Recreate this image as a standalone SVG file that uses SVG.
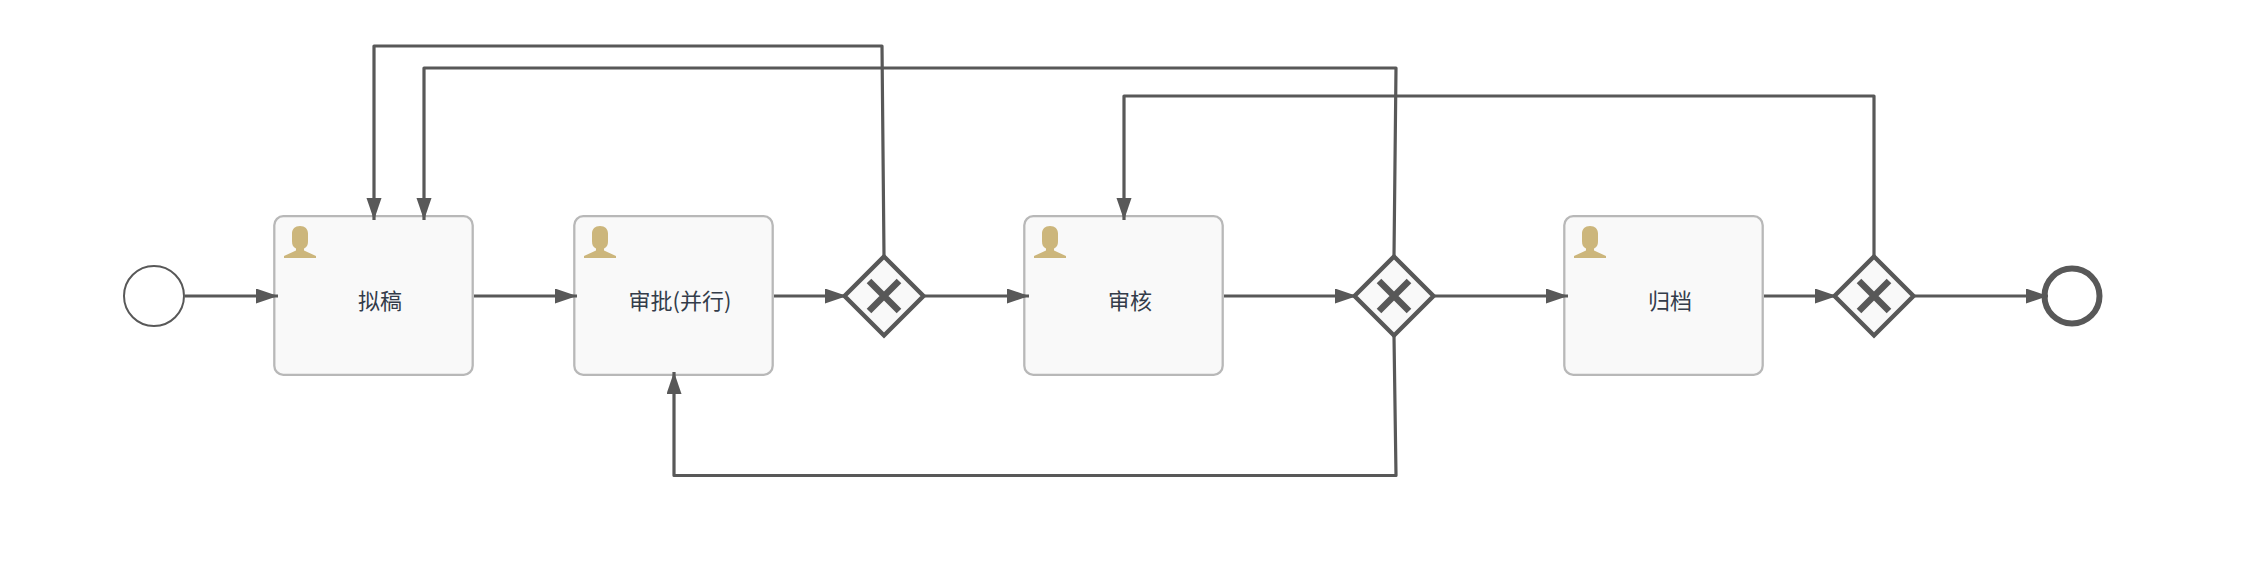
<svg xmlns="http://www.w3.org/2000/svg" width="2250" height="566" viewBox="0 0 2250 566">
<style>
.flow{fill:none;stroke:#585858;stroke-width:3.200;stroke-linejoin:round;stroke-linecap:butt}
.task{fill:#f9f9f9;stroke:#b8b8b8;stroke-width:2.300}
.gw{fill:#f9f9f9;stroke:#585858;stroke-width:4.400}
.x{fill:none;stroke:#585858;stroke-width:6.500}
.user{fill:#ccb67c}
.lbl{font-family:"Noto Sans CJK SC","Noto Sans",sans-serif;font-size:22px;fill:#333c4a;text-anchor:middle}
</style>
<defs>
<marker id="arrow" markerUnits="userSpaceOnUse" markerWidth="23" markerHeight="16" refX="22" refY="7.500" orient="auto"><path d="M0 0L22 7.500L0 15Z" fill="#585858"/></marker>
<path id="person" d="M16 0C11 0 8 3 8 7.500V15C8 19 9 21 12 22.500V24.500L0 30V32H32V30L20 24.500V22.500C23 21 24 19 24 15V7.500C24 3 21 0 16 0Z"/>
</defs>
<g id="start"><circle cx="154" cy="296" r="30" fill="#fff" stroke="#585858" stroke-width="2"/></g>
<g id="task1"><rect class="task" x="274.300" y="216.200" width="198.400" height="158.600" rx="9"/><use href="#person" class="user" x="284" y="226"/><text class="lbl" x="380" y="309">拟稿</text></g>
<g id="task2"><rect class="task" x="574.300" y="216.200" width="198.400" height="158.600" rx="9"/><use href="#person" class="user" x="584" y="226"/><text class="lbl" x="680" y="309">审批(并行)</text></g>
<g id="gateway1"><path class="gw" d="M884 256.500L923.500 296L884 335.500L844.500 296Z"/><path class="x" d="M869 281L899 311M899 281L869 311"/></g>
<g id="task3"><rect class="task" x="1024.300" y="216.200" width="198.400" height="158.600" rx="9"/><use href="#person" class="user" x="1034" y="226"/><text class="lbl" x="1130" y="309">审核</text></g>
<g id="gateway2"><path class="gw" d="M1394 256.500L1433.500 296L1394 335.500L1354.500 296Z"/><path class="x" d="M1379 281L1409 311M1409 281L1379 311"/></g>
<g id="task4"><rect class="task" x="1564.300" y="216.200" width="198.400" height="158.600" rx="9"/><use href="#person" class="user" x="1574" y="226"/><text class="lbl" x="1670" y="309">归档</text></g>
<g id="gateway3"><path class="gw" d="M1874 256.500L1913.500 296L1874 335.500L1834.500 296Z"/><path class="x" d="M1859 281L1889 311M1889 281L1859 311"/></g>
<g id="end"><circle cx="2072" cy="296" r="27.500" fill="#fff" stroke="#585858" stroke-width="6"/></g>
<g id="connectors">
<path class="flow" marker-end="url(#arrow)" d="M185 296H278"/>
<path class="flow" marker-end="url(#arrow)" d="M474 296H577"/>
<path class="flow" marker-end="url(#arrow)" d="M774 296H847"/>
<path class="flow" marker-end="url(#arrow)" d="M925 296H1029"/>
<path class="flow" marker-end="url(#arrow)" d="M1224 296H1357"/>
<path class="flow" marker-end="url(#arrow)" d="M1435 296H1568"/>
<path class="flow" marker-end="url(#arrow)" d="M1764 296H1837"/>
<path class="flow" marker-end="url(#arrow)" d="M1915 296H2048"/>
<path class="flow" marker-end="url(#arrow)" d="M884 256L882 46H374V220"/>
<path class="flow" marker-end="url(#arrow)" d="M1394 256L1396 68H424V220"/>
<path class="flow" marker-end="url(#arrow)" d="M1874 256V96H1124V220"/>
<path class="flow" marker-end="url(#arrow)" d="M1394 336L1396 475.500H674V372"/>
</g>
</svg>
